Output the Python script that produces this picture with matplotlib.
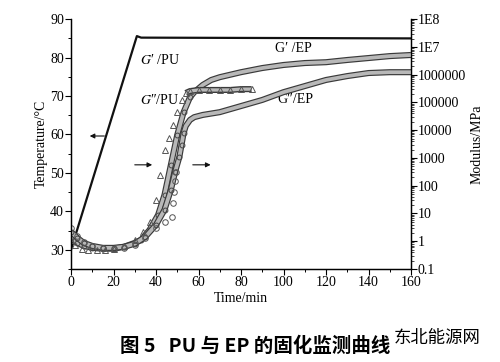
import numpy as np
import matplotlib
matplotlib.use("Agg")
from matplotlib import pyplot as plt
from matplotlib import patheffects as pe
from matplotlib.ticker import FixedLocator, FixedFormatter, MultipleLocator, LogLocator, NullFormatter

plt.rcParams['font.family'] = ['Liberation Serif', 'DejaVu Serif']
plt.rcParams['mathtext.fontset'] = 'stix'

# temperature program (left axis)
temp_t = [0, 31, 33, 160]
temp_c = [30, 85.6, 85.2, 85.0]

# modulus curves, log10(MPa)
gp_ep_t = [0, 3, 6, 10, 15, 20, 25, 30, 33, 37, 41, 44, 47, 50, 53, 56, 58, 62, 66, 70,
           80, 90, 100, 110, 120, 130, 140, 150, 160]
gp_ep_log = [0.12, -0.06, -0.17, -0.24, -0.27, -0.27, -0.20, -0.06, 0.05, 0.41, 0.95, 1.67,
             2.75, 3.83, 4.65, 5.19, 5.37, 5.63, 5.81, 5.91, 6.09, 6.24, 6.35, 6.42, 6.45,
             6.53, 6.60, 6.67, 6.71]

gpp_ep_t = [0, 3, 6, 10, 15, 20, 25, 30, 35, 40, 44, 47, 49, 51, 52, 53, 54, 56, 58, 62,
            70, 80, 90, 100, 110, 120, 130, 140, 150, 160]
gpp_ep_log = [0.34, 0.12, -0.06, -0.17, -0.24, -0.24, -0.20, -0.09, 0.16, 0.59, 1.13, 1.85,
              2.50, 3.04, 3.47, 3.90, 4.15, 4.37, 4.47, 4.55, 4.65, 4.87, 5.09, 5.37, 5.59,
              5.81, 5.95, 6.06, 6.09, 6.09]

gp_pu_t = [0, 2, 5, 8, 12, 16, 20, 25, 30, 34, 37, 40, 42, 44, 46, 48, 50, 52, 54, 56,
           60, 65, 70, 75, 80, 85]
gp_pu_log = [0.05, -0.13, -0.27, -0.31, -0.31, -0.31, -0.27, -0.17, 0.05, 0.34, 0.70, 1.49,
             2.39, 3.29, 3.72, 4.19, 4.65, 5.09, 5.34, 5.41, 5.45, 5.45, 5.45, 5.45, 5.48, 5.48]

gpp_pu_t = [0, 3, 6, 10, 15, 20, 25, 30, 35, 40, 44, 47.5, 48, 48.5, 49, 49.5]
gpp_pu_log = [0.48, 0.19, -0.02, -0.17, -0.24, -0.27, -0.24, -0.13, 0.12, 0.48, 0.70,
              0.88, 1.38, 1.78, 2.17, 2.50]

right_ticks = [0.1, 1, 10, 100, 1000, 10000, 100000, 1000000, 1e7, 1e8]
right_labels = ['0.1', '1', '10', '100', '1000', '10000', '100000', '1000000', '1E7', '1E8']

fig = plt.figure(figsize=(5, 3.62), dpi=100)
ax = fig.add_axes([0.142, 0.257, 0.68, 0.690])
ax2 = ax.twinx()

ax.plot(temp_t, temp_c, color='#111', lw=1.6, zorder=5)
ax.set_xlim(0, 160)
ax.set_ylim(25, 90)
ax.yaxis.set_major_locator(MultipleLocator(10))
ax.yaxis.set_minor_locator(MultipleLocator(5))
ax.xaxis.set_major_locator(MultipleLocator(20))
ax.xaxis.set_minor_locator(MultipleLocator(10))
ax.set_yticks([30, 40, 50, 60, 70, 80, 90])
ax.set_xlabel('Time/min', fontsize=10, labelpad=2)
ax.set_ylabel('Temperature/°C', fontsize=10, labelpad=2)
ax.tick_params(labelsize=10, length=4, width=0.8, pad=1)
ax.tick_params(which='minor', length=2.5, width=0.7)

band = [pe.Stroke(linewidth=4.4, foreground='#3a3a3a'), pe.Normal()]
mk = dict(mfc='none', mew=0.7, ls='none')

for t, lg in [(gp_ep_t, gp_ep_log), (gpp_ep_t, gpp_ep_log)]:
    v = 10 ** np.array(lg)
    ax2.plot(t, v, color='#b8b8b8', lw=2.7, path_effects=band, solid_capstyle='butt')
    ax2.plot(t[:16], v[:16], marker='o', ms=3.5, mec='#444', **mk)

v = 10 ** np.array(gp_pu_log)
ax2.plot(gp_pu_t[18:], v[18:], color='#b8b8b8', lw=2.4, path_effects=band, solid_capstyle='butt')
ax2.plot(gp_pu_t, v, marker='^', ms=4, mec='#555', **mk)

v = 10 ** np.array(gpp_pu_log)
ax2.plot(gpp_pu_t, v, marker='o', ms=4, mec='#555', **mk)

ax2.set_yscale('log')
ax2.set_ylim(0.1, 1e8)
ax2.yaxis.set_major_locator(FixedLocator(right_ticks))
ax2.yaxis.set_major_formatter(FixedFormatter(right_labels))
ax2.yaxis.set_minor_locator(LogLocator(base=10, subs=np.arange(2, 10), numticks=20))
ax2.yaxis.set_minor_formatter(NullFormatter())
ax2.set_ylabel('Modulus/MPa', fontsize=10, labelpad=3)
ax2.tick_params(labelsize=10, length=4, width=0.8, pad=1)
ax2.tick_params(which='minor', length=2, width=0.5)

for a in (ax, ax2):
    a.spines['top'].set_visible(False)
    for s in ('left', 'right', 'bottom'):
        a.spines[s].set_linewidth(0.9)

ax.text(32.5, 79.4, "$G$\u2032 /PU", fontsize=10, va='center')
ax.text(32.5, 69.0, "$G$\u2033/PU", fontsize=10, va='center')
ax.text(96, 82.5, "G\u2032 /EP", fontsize=10, va='center')
ax.text(97, 69.0, "G\u2033/EP", fontsize=10, va='center')

arrow = dict(arrowstyle='-|>', lw=0.8, color='#111', mutation_scale=7)
ax.annotate('', xy=(7.5, 59.6), xytext=(17, 59.6), arrowprops=arrow)
ax.annotate('', xy=(39.5, 52.1), xytext=(28.7, 52.1), arrowprops=arrow)
ax.annotate('', xy=(67, 52.1), xytext=(56, 52.1), arrowprops=arrow)

fig.text(0.51, 0.045, '图 5   PU 与 EP 的固化监测曲线', fontsize=14, fontweight='bold',
         ha='center', va='center', family=['Noto Sans CJK SC', 'DejaVu Sans'])
fig.text(0.875, 0.065, '东北能源网', fontsize=12.5, ha='center', va='center',
         family=['Noto Sans CJK SC', 'DejaVu Sans'])

fig.savefig('out.png', dpi=100)
